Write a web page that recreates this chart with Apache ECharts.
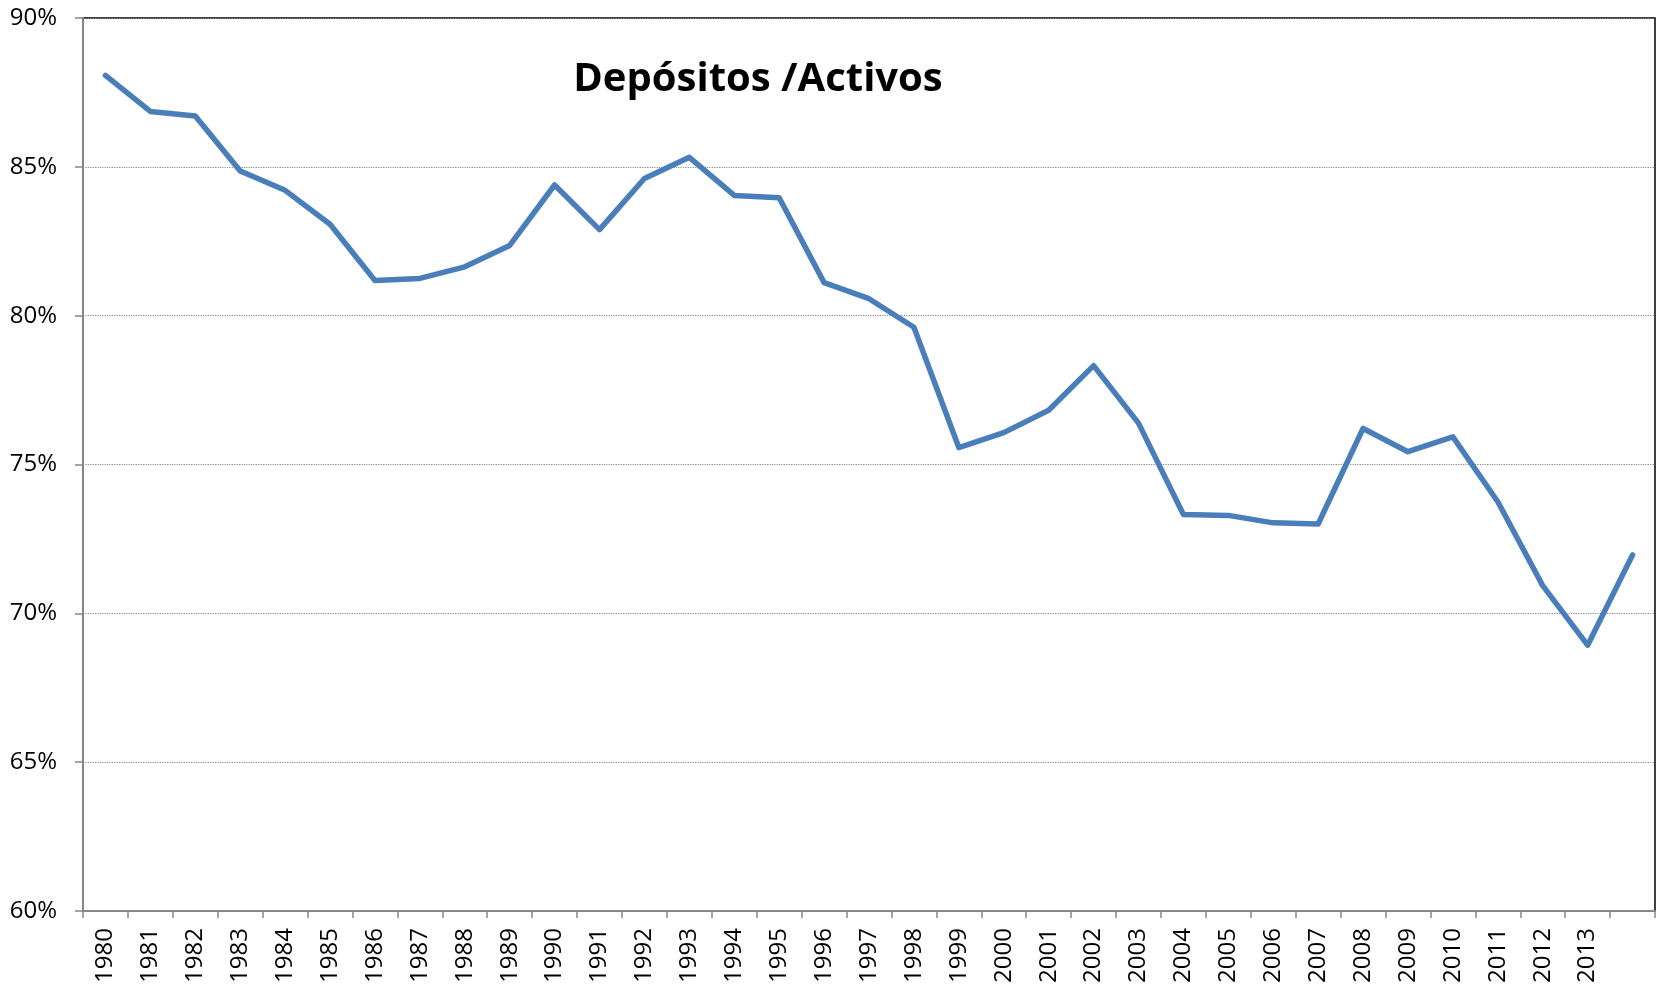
<!DOCTYPE html>
<html>
<head>
<meta charset="utf-8">
<script src="https://cdn.jsdelivr.net/npm/echarts@6/dist/echarts.min.js"></script>
<style>
  html, body { margin: 0; padding: 0; background: #fff; }
  #chart { width: 1665px; height: 987px; }
</style>
</head>
<body>
<div id="chart"></div>
<script>
// años (el último punto no lleva etiqueta)
var years = ['1980', '1981', '1982', '1983', '1984', '1985', '1986', '1987', '1988', '1989',
  '1990', '1991', '1992', '1993', '1994', '1995', '1996', '1997', '1998', '1999',
  '2000', '2001', '2002', '2003', '2004', '2005', '2006', '2007', '2008', '2009',
  '2010', '2011', '2012', '2013', ''];

// depósitos / activos, en %
var ratio = [88.07, 86.86, 86.71, 84.86, 84.21, 83.07, 81.18, 81.25, 81.64, 82.36,
  84.39, 82.89, 84.61, 85.32, 84.04, 83.96, 81.11, 80.57, 79.61, 75.57,
  76.07, 76.82, 78.32, 76.39, 73.32, 73.29, 73.04, 73.0, 76.21, 75.43,
  75.93, 73.75, 70.93, 68.93, 71.96];

var chart = echarts.init(document.getElementById('chart'));

var option = {
  animation: false,
  title: {
    text: 'Depósitos /Activos',
    left: 753,
    top: 55,
    textAlign: 'center',
    textStyle: {
      fontFamily: 'Open Sans',
      fontWeight: 'bold',
      fontSize: 40,
      color: '#000'
    }
  },
  grid: {
    left: 83,
    right: 10,
    top: 18,
    bottom: 76,
    show: true,
    borderColor: '#000',
    borderWidth: 1.5
  },
  xAxis: {
    type: 'category',
    data: years,
    boundaryGap: true,
    axisLine: { lineStyle: { color: '#868686', width: 2 } },
    axisTick: { show: true, inside: false, length: 7, lineStyle: { color: '#868686', width: 1.5 } },
    axisLabel: {
      interval: 0,
      rotate: 90,
      margin: 17,
      fontFamily: 'Open Sans',
      fontSize: 24,
      color: '#000'
    },
    splitLine: { show: false }
  },
  yAxis: {
    type: 'value',
    min: 60,
    max: 90,
    interval: 5,
    axisLine: { show: true, lineStyle: { color: '#868686', width: 2 } },
    axisTick: { show: true, length: 8, lineStyle: { color: '#868686', width: 1.5 } },
    axisLabel: {
      formatter: '{value}%',
      margin: 26,
      fontFamily: 'Open Sans',
      fontSize: 24,
      color: '#000'
    },
    splitLine: { show: true, lineStyle: { color: '#868686', type: 'dotted', width: 1.2 } }
  },
  series: [{
    name: 'Depósitos /Activos',
    type: 'line',
    data: ratio,
    showSymbol: false,
    symbol: 'none',
    lineStyle: { color: '#4a7ebb', width: 5.5, cap: 'round', join: 'round' }
  }]
};

chart.setOption(option);
</script>
</body>
</html>
